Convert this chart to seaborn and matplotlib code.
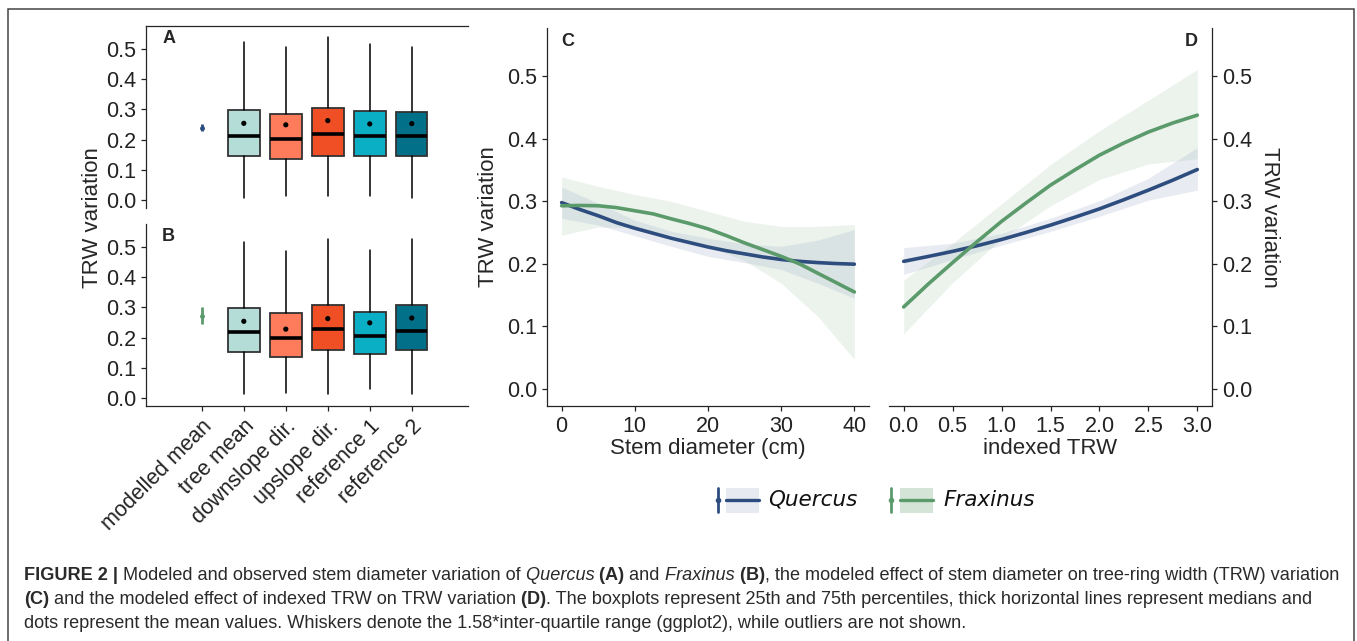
import numpy as np
import pandas as pd
import seaborn as sns
import matplotlib
matplotlib.use("Agg")
import matplotlib.pyplot as plt
from matplotlib.patches import Rectangle
from matplotlib.lines import Line2D

# categories of the boxplot panels (A, B)
categories = ["modelled mean", "tree mean", "downslope dir.", "upslope dir.", "reference 1", "reference 2"]
box_colors = ["#b3ddd6", "#fe7b5c", "#f04f26", "#0bafc5", "#03708a"]

# Quercus (A) - observed boxes
q_q1 = [0.144, 0.136, 0.147, 0.145, 0.146]
q_med = [0.211, 0.201, 0.220, 0.212, 0.212]
q_q3 = [0.298, 0.285, 0.304, 0.295, 0.292]
q_lo = [0.006, 0.011, 0.013, 0.014, 0.007]
q_hi = [0.523, 0.509, 0.540, 0.518, 0.509]
q_mean = [0.254, 0.249, 0.263, 0.252, 0.253]
q_model = [0.239, 0.227, 0.252]  # estimate, lower, upper

# Fraxinus (B)
f_q1 = [0.152, 0.137, 0.157, 0.144, 0.159]
f_med = [0.217, 0.197, 0.228, 0.204, 0.223]
f_q3 = [0.297, 0.280, 0.307, 0.285, 0.307]
f_lo = [0.013, 0.017, 0.013, 0.030, 0.013]
f_hi = [0.517, 0.488, 0.527, 0.491, 0.527]
f_mean = [0.254, 0.228, 0.263, 0.249, 0.265]
f_model = [0.272, 0.244, 0.300]

# Panel C - effect of stem diameter (fitted lines)
diam = [0, 2.5, 5, 7.5, 10, 12.5, 15, 17.5, 20, 22.5, 25, 27.5, 30, 32.5, 35, 37.5, 40]
c_quercus = [0.298, 0.287, 0.277, 0.266, 0.257, 0.249, 0.241, 0.234, 0.227, 0.221,
             0.216, 0.211, 0.207, 0.204, 0.202, 0.2005, 0.1995]
c_fraxinus = [0.293, 0.2935, 0.293, 0.290, 0.285, 0.280, 0.272, 0.2645, 0.256, 0.2452,
              0.2335, 0.2228, 0.212, 0.200, 0.185, 0.170, 0.155]
# confidence ribbons
diam_band = [0, 5, 10, 15, 20, 25, 30, 35, 40]
c_quercus_lo = [0.273, 0.262, 0.245, 0.228, 0.212, 0.202, 0.191, 0.169, 0.145]
c_quercus_hi = [0.323, 0.297, 0.270, 0.252, 0.241, 0.232, 0.228, 0.238, 0.255]
c_fraxinus_lo = [0.246, 0.259, 0.258, 0.246, 0.228, 0.205, 0.169, 0.116, 0.047]
c_fraxinus_hi = [0.339, 0.324, 0.311, 0.300, 0.284, 0.268, 0.260, 0.260, 0.263]

# Panel D - effect of indexed TRW
itrw = [0.0, 0.25, 0.5, 0.75, 1.0, 1.25, 1.5, 1.75, 2.0, 2.25, 2.5, 2.75, 3.0]
d_quercus = [0.204, 0.2118, 0.220, 0.229, 0.239, 0.2502, 0.262, 0.2747, 0.288, 0.3027,
             0.318, 0.334, 0.351]
d_fraxinus = [0.131, 0.1675, 0.202, 0.2355, 0.268, 0.2975, 0.326, 0.3505, 0.374, 0.3935,
              0.411, 0.4255, 0.438]
itrw_band = [0.0, 0.5, 1.0, 1.5, 2.0, 2.5, 3.0]
d_quercus_lo = [0.183, 0.207, 0.230, 0.252, 0.276, 0.302, 0.318]
d_quercus_hi = [0.226, 0.233, 0.249, 0.273, 0.301, 0.337, 0.386]
d_fraxinus_lo = [0.088, 0.170, 0.240, 0.293, 0.335, 0.360, 0.368]
d_fraxinus_hi = [0.174, 0.233, 0.296, 0.359, 0.413, 0.462, 0.511]

species = ["Quercus", "Fraxinus"]
sp_colors = {"Quercus": "#2e4d7f", "Fraxinus": "#5b9a6b"}
band_colors = {"Quercus": "#9aa6c6", "Fraxinus": "#a9c9b0"}
key_fill = {"Quercus": "#e7eaf1", "Fraxinus": "#d4e5d7"}

sns.set_theme(style="ticks")
plt.rcParams["font.family"] = ["Liberation Sans", "DejaVu Sans"]
plt.rcParams["axes.linewidth"] = 0.9
plt.rcParams["xtick.major.width"] = 0.9
plt.rcParams["ytick.major.width"] = 0.9
plt.rcParams["xtick.major.size"] = 3.5
plt.rcParams["ytick.major.size"] = 3.5
plt.rcParams["xtick.color"] = "#222222"
plt.rcParams["ytick.color"] = "#222222"

W, H = 1357, 641
fig = plt.figure(figsize=(W / 100, H / 100), dpi=100)
fig.patch.set_facecolor("white")

TICK = 15.5
LAB = 16
YLIM = (-0.0275, 0.5775)
yt = [0.0, 0.1, 0.2, 0.3, 0.4, 0.5]


def fig_rect(l, r, t, b):
    return [l / W, 1 - b / H, (r - l) / W, (b - t) / H]


ax_a = fig.add_axes(fig_rect(146, 468, 26, 208))
ax_b = fig.add_axes(fig_rect(146, 468, 224, 406))
ax_c = fig.add_axes(fig_rect(547, 869, 28, 406))
ax_d = fig.add_axes(fig_rect(889, 1212, 28, 406))


def box_panel(ax, q1, med, q3, lo, hi, mean, model, col):
    stats = []
    for i in range(len(q1)):
        stats.append(dict(q1=q1[i], med=med[i], q3=q3[i], whislo=lo[i], whishi=hi[i],
                          label=categories[i + 1]))
    bp = ax.bxp(stats, positions=list(range(1, 6)), widths=0.75, patch_artist=True,
                showfliers=False, showcaps=False,
                boxprops=dict(edgecolor="#333333", linewidth=1.3),
                medianprops=dict(color="black", linewidth=2.6),
                whiskerprops=dict(color="black", linewidth=1.1))
    for patch, c in zip(bp["boxes"], box_colors):
        patch.set_facecolor(c)
    sns.scatterplot(x=list(range(1, 6)), y=mean, color="black", s=14, ax=ax, zorder=5,
                    edgecolor="none")
    ax.errorbar([0], [model[0]], yerr=[[model[0] - model[1]], [model[2] - model[0]]],
                fmt="o", ms=2.5, color=col, elinewidth=2.0, capsize=0)
    ax.set_xlim(-1.33, 6.34)
    ax.set_ylim(*YLIM)
    ax.set_yticks(yt)
    ax.set_yticklabels([f"{v:.1f}" for v in yt], fontsize=TICK)
    ax.set_facecolor("white")


box_panel(ax_a, q_q1, q_med, q_q3, q_lo, q_hi, q_mean, q_model, sp_colors["Quercus"])
box_panel(ax_b, f_q1, f_med, f_q3, f_lo, f_hi, f_mean, f_model, sp_colors["Fraxinus"])

ax_a.spines["bottom"].set_visible(False)
ax_a.spines["right"].set_visible(False)
ax_a.set_xticks([])
ax_b.spines["top"].set_visible(False)
ax_b.spines["right"].set_visible(False)
ax_b.set_xticks(range(6))
ax_b.set_xticklabels(categories, rotation=45, ha="right", va="top",
                     rotation_mode="anchor", fontsize=TICK)
ax_a.text(0.05, 0.93, "A", transform=ax_a.transAxes, fontsize=13, fontweight="bold",
          va="center", ha="left")
ax_b.text(0.05, 0.93, "B", transform=ax_b.transAxes, fontsize=13, fontweight="bold",
          va="center", ha="left")
fig.text(93 / W, 1 - 218 / H, "TRW variation", rotation=90, ha="center", va="center",
         fontsize=LAB)


def curve_panel(ax, x, fits, xb, lows, highs):
    rows = []
    for sp in species:
        ax.fill_between(xb, lows[sp], highs[sp], color=band_colors[sp], alpha=0.22,
                        linewidth=0)
        for xi, yi in zip(x, fits[sp]):
            rows.append((sp, xi, yi))
    df = pd.DataFrame(rows, columns=["species", "x", "y"])
    sns.lineplot(data=df, x="x", y="y", hue="species", hue_order=species,
                 palette=sp_colors, linewidth=2.6, legend=False, ax=ax)
    ax.set_ylim(*YLIM)
    ax.set_yticks(yt)
    ax.set_yticklabels([f"{v:.1f}" for v in yt], fontsize=TICK)
    ax.spines["top"].set_visible(False)


curve_panel(ax_c, diam,
            {"Quercus": c_quercus, "Fraxinus": c_fraxinus}, diam_band,
            {"Quercus": c_quercus_lo, "Fraxinus": c_fraxinus_lo},
            {"Quercus": c_quercus_hi, "Fraxinus": c_fraxinus_hi})
ax_c.spines["right"].set_visible(False)
ax_c.set_xlim(-2, 42)
ax_c.set_xticks([0, 10, 20, 30, 40])
ax_c.set_xticklabels(["0", "10", "20", "30", "40"], fontsize=TICK)
ax_c.set_xlabel("Stem diameter (cm)", fontsize=LAB, labelpad=1)
ax_c.set_ylabel("TRW variation", fontsize=LAB, labelpad=6)
ax_c.text(0.045, 0.965, "C", transform=ax_c.transAxes, fontsize=13, fontweight="bold",
          va="center", ha="left")

curve_panel(ax_d, itrw,
            {"Quercus": d_quercus, "Fraxinus": d_fraxinus}, itrw_band,
            {"Quercus": d_quercus_lo, "Fraxinus": d_fraxinus_lo},
            {"Quercus": d_quercus_hi, "Fraxinus": d_fraxinus_hi})
ax_d.spines["left"].set_visible(False)
ax_d.yaxis.tick_right()
ax_d.yaxis.set_label_position("right")
ax_d.set_xlim(-0.15, 3.15)
ax_d.set_xticks(itrw_band)
ax_d.set_xticklabels([f"{v:.1f}" for v in itrw_band], fontsize=TICK)
ax_d.set_xlabel("indexed TRW", fontsize=LAB, labelpad=1)
ax_d.set_ylabel("TRW variation", fontsize=LAB, rotation=270, labelpad=20)
ax_d.text(0.955, 0.965, "D", transform=ax_d.transAxes, fontsize=13, fontweight="bold",
          va="center", ha="right")

# legend drawn by hand (pointrange key + ribbon key)
leg_y = 1 - 500 / H
for sp, xbar, xrect, xtxt in [("Quercus", 718, 726, 768), ("Fraxinus", 891, 900, 943)]:
    col = sp_colors[sp]
    fig.add_artist(Line2D([xbar / W, xbar / W], [1 - 488 / H, 1 - 512 / H], color=col,
                          lw=2.0, transform=fig.transFigure))
    fig.add_artist(Line2D([xbar / W], [leg_y], marker="o", ms=3, color=col,
                          transform=fig.transFigure))
    fig.add_artist(Rectangle((xrect / W, 1 - 513 / H), 33 / W, 25 / H,
                             facecolor=key_fill[sp], edgecolor="none",
                             transform=fig.transFigure))
    fig.add_artist(Line2D([xrect / W, (xrect + 33) / W], [leg_y, leg_y], color=col,
                          lw=2.4, transform=fig.transFigure))
    fig.text(xtxt / W, leg_y, sp, fontsize=15.5, style="italic", family="DejaVu Sans",
             va="center", ha="left", color="#111111")

# caption
cap_lines = [
    [("FIGURE 2 |", "b"), (" Modeled and observed stem diameter variation of", "n"),
     (" Quercus", "i"), (" (A)", "b"), (" and", "n"), (" Fraxinus", "i"), (" (B)", "b"),
     (", the modeled effect of stem diameter on tree-ring width (TRW) variation", "n")],
    [("(C)", "b"), (" and the modeled effect of indexed TRW on TRW variation", "n"),
     (" (D)", "b"),
     (". The boxplots represent 25th and 75th percentiles, thick horizontal lines represent medians and", "n")],
    [("dots represent the mean values. Whiskers denote the 1.58*inter-quartile range (ggplot2), while outliers are not shown.", "n")],
]
cap_y = [580, 604, 628]
renderer = fig.canvas.get_renderer()


def put_line(pieces, x0, ypx, size, keep=True):
    x = x0
    made = []
    for txt, st in pieces:
        t = fig.text(x / W, 1 - ypx / H, txt, fontsize=size, color="#2a2a2a",
                     fontweight="bold" if st == "b" else "normal",
                     fontstyle="italic" if st == "i" else "normal",
                     ha="left", va="baseline")
        x += t.get_window_extent(renderer).width
        made.append(t)
    if not keep:
        for t in made:
            t.remove()
    return x - x0


w12 = put_line(cap_lines[0], 24, cap_y[0], 12, keep=False)
cap_size = 12 * (1340 - 24) / w12
for pieces, ypx in zip(cap_lines, cap_y):
    put_line(pieces, 24, ypx, cap_size)

# outer frame of the figure
fig.add_artist(Rectangle((8 / W, -0.05), (1354 - 8) / W, 1.05 - 9 / H, fill=False,
                         edgecolor="#444444", lw=1.1, transform=fig.transFigure,
                         clip_on=False))

fig.savefig("out.png", dpi=100)
